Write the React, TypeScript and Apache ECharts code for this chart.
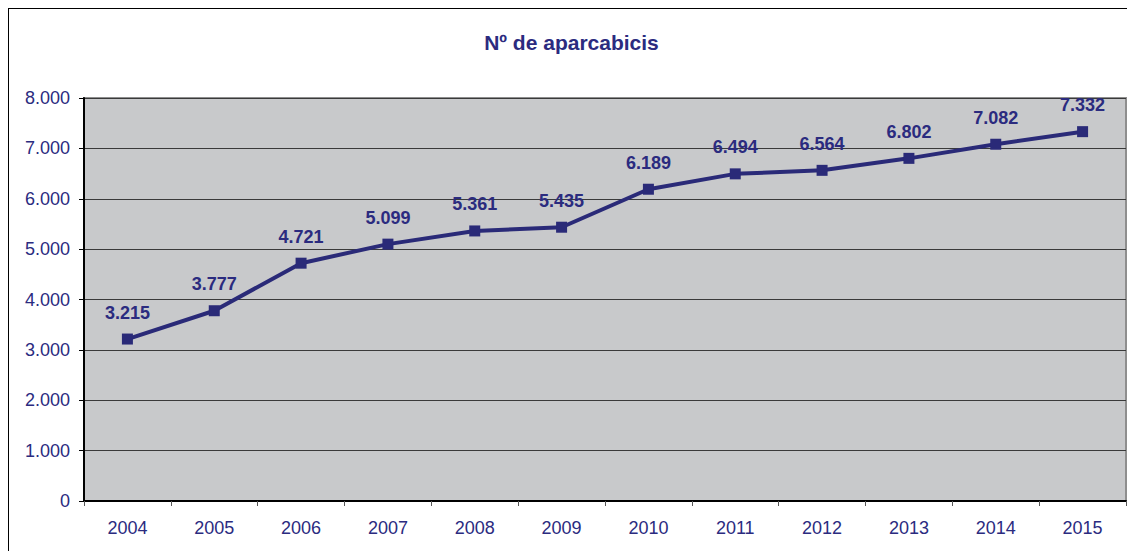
import React, { useEffect, useRef } from "react";
import * as echarts from "echarts";

const titleText = "Nº de aparcabicis";
const years = ["2004", "2005", "2006", "2007", "2008", "2009", "2010", "2011", "2012", "2013", "2014", "2015"];
const values = [3215, 3777, 4721, 5099, 5361, 5435, 6189, 6494, 6564, 6802, 7082, 7332];

const NAVY = "#2B2B7F";
const FONT = "'Liberation Sans', Arial, sans-serif";

const fmt = (v: number) => String(Math.round(v)).replace(/\B(?=(\d{3})+(?!\d))/g, ".");

export default function App() {
  const ref = useRef<HTMLDivElement>(null);
  useEffect(() => {
    if (!ref.current) return;
    const chart = echarts.init(ref.current, undefined, { renderer: "svg" });
    chart.setOption({
      animation: false,
      backgroundColor: "#ffffff",
      textStyle: { fontFamily: FONT },
      title: {
        text: titleText,
        left: "center",
        top: 19,
        textStyle: { color: NAVY, fontSize: 21, fontWeight: "bold", fontFamily: FONT },
      },
      graphic: [
        { type: "line", shape: { x1: 0, y1: 0.5, x2: 1127, y2: 0.5 }, style: { stroke: "#000", lineWidth: 1 } },
        { type: "line", shape: { x1: 0.5, y1: 0, x2: 0.5, y2: 543 }, style: { stroke: "#000", lineWidth: 1 } },
      ],
      grid: {
        left: 76,
        top: 90,
        right: 9,
        bottom: 50,
        show: true,
        backgroundColor: "#C8C9CB",
        borderColor: "#8E8E8E",
        borderWidth: 2,
      },
      xAxis: {
        type: "category",
        data: years,
        boundaryGap: true,
        axisLine: { show: true, lineStyle: { color: "#000", width: 2 } },
        axisTick: { show: true, length: 5, lineStyle: { color: "#555", width: 1 } },
        axisLabel: { color: NAVY, fontSize: 18, margin: 18, fontFamily: FONT },
        splitLine: { show: false },
      },
      yAxis: {
        type: "value",
        min: 0,
        max: 8000,
        interval: 1000,
        axisLine: { show: true, lineStyle: { color: "#000", width: 2 } },
        axisTick: { show: true, length: 5, lineStyle: { color: "#000", width: 1 } },
        axisLabel: { color: NAVY, fontSize: 18, margin: 14, fontFamily: FONT, formatter: (v: number) => fmt(v) },
        splitLine: { show: true, lineStyle: { color: "#3A3A3A", width: 1 } },
      },
      series: [
        {
          type: "line",
          data: values,
          symbol: "rect",
          symbolSize: 11,
          lineStyle: { color: "#2A2A78", width: 4 },
          itemStyle: { color: "#2A2A78" },
          label: {
            show: true,
            position: "top",
            distance: 12,
            color: NAVY,
            fontSize: 18,
            fontWeight: "bold",
            fontFamily: FONT,
            formatter: (p: any) => fmt(p.value),
          },
        },
      ],
    });
    return () => chart.dispose();
  }, []);
  return <div ref={ref} style={{ width: 1127, height: 543 }} />;
}
